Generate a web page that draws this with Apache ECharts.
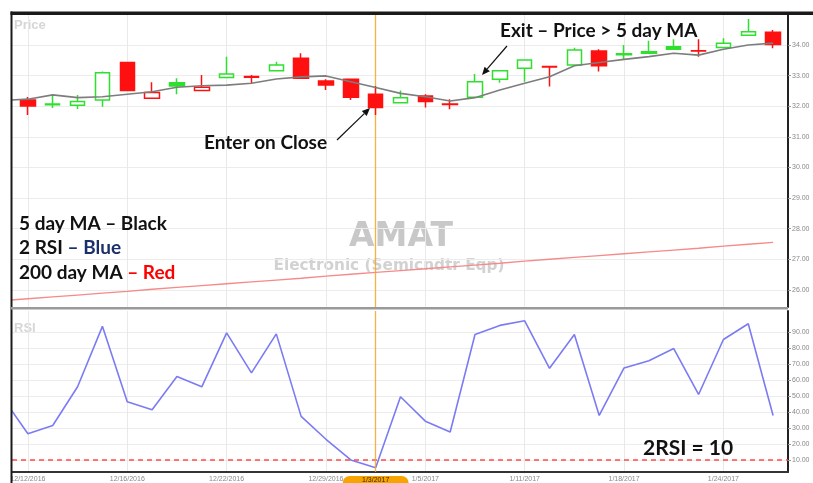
<!DOCTYPE html>
<html>
<head>
<meta charset="utf-8">
<script src="https://cdn.jsdelivr.net/npm/echarts@6/dist/echarts.min.js"></script>
<style>
  html, body { margin: 0; padding: 0; background: #fff; }
  #chart { width: 813px; height: 483px; }
</style>
</head>
<body>
<div id="chart"></div>
<script>
// AMAT daily bars, 12/12/2016 - 1/26/2017
const dates = [
  '12/12/2016', '12/13/2016', '12/14/2016', '12/15/2016', '12/16/2016', '12/19/2016', '12/20/2016', '12/21/2016',
  '12/22/2016', '12/23/2016', '12/27/2016', '12/28/2016', '12/29/2016', '12/30/2016', '1/3/2017', '1/4/2017',
  '1/5/2017', '1/6/2017', '1/9/2017', '1/10/2017', '1/11/2017', '1/12/2017', '1/13/2017', '1/17/2017',
  '1/18/2017', '1/19/2017', '1/20/2017', '1/23/2017', '1/24/2017', '1/25/2017', '1/26/2017',
];
const openPrices = [
  32.20, 32.05, 32.03, 32.20, 33.43, 32.26, 32.77, 32.51, 32.94, 32.95, 33.16, 33.57, 32.82, 32.88, 32.39, 32.11,
  32.33, 32.07, 32.29, 32.88, 33.24, 33.28, 33.35, 33.80, 33.68, 33.73, 33.94, 33.81, 33.92, 34.32, 34.42,
];
const closePrices = [
  32.01, 32.07, 32.15, 33.09, 32.51, 32.45, 32.66, 32.62, 33.05, 32.97, 33.35, 32.91, 32.69, 32.29, 31.96, 32.28,
  32.15, 32.06, 32.80, 33.16, 33.51, 33.30, 33.84, 33.32, 33.71, 33.78, 33.86, 33.80, 34.06, 34.43, 34.02,
];
const lowPrices = [
  31.71, 31.94, 31.91, 31.98, 32.50, 32.26, 32.39, 32.51, 32.91, 32.75, 33.16, 32.91, 32.53, 32.20, 31.71, 32.11,
  31.96, 31.90, 32.29, 32.77, 32.80, 32.64, 33.35, 33.13, 33.54, 33.73, 33.84, 33.62, 33.89, 34.32, 33.89,
];
const highPrices = [
  32.30, 32.37, 32.37, 33.13, 33.45, 32.78, 32.91, 33.02, 33.62, 33.02, 33.45, 33.73, 32.88, 32.90, 32.66, 32.51,
  32.39, 32.23, 33.05, 33.16, 33.51, 33.32, 33.91, 33.86, 34.00, 34.14, 34.19, 34.19, 34.22, 34.85, 34.49,
];
const ma5 = [
  32.23, 32.37, 32.28, 32.31, 32.39, 32.47, 32.62, 32.67, 32.69, 32.75, 32.89, 32.96, 32.99, 32.80, 32.61, 32.42,
  32.31, 32.17, 32.28, 32.53, 32.75, 32.96, 33.32, 33.43, 33.53, 33.62, 33.73, 33.67, 33.86, 34.00, 34.06,
];
const ma200 = [
  25.71, 25.77, 25.83, 25.89, 25.95, 26.02, 26.08, 26.14, 26.20, 26.26, 26.32, 26.38, 26.45, 26.51, 26.57, 26.63,
  26.69, 26.75, 26.81, 26.87, 26.94, 27.00, 27.06, 27.12, 27.18, 27.24, 27.30, 27.36, 27.43, 27.49, 27.55,
];
const rsi2 = [
  26.6, 31.7, 55.9, 93.7, 46.6, 41.5, 62.4, 55.9, 89.6, 64.6, 89.0, 37.4, 23.1, 10.2, 5.3, 49.7,
  34.4, 27.6, 88.6, 94.3, 97.2, 67.5, 88.6, 38.0, 67.7, 72.2, 79.8, 51.1, 85.5, 95.3, 38.0,
];
// 12/9/2016, the bar just left of the window
const prevClose = 32.30;
const ma5Lead = 32.19;
const ma200Lead = 25.65;
const rsi2Lead = 48.7;

const priceTicks = [26, 27, 28, 29, 30, 31, 32, 33, 34];
const rsiTicks = [10, 20, 30, 40, 50, 60, 70, 80, 90];
const dateTicks = [0, 4, 8, 12, 16, 20, 24, 28];
const rsiLevel = 10;
const entryIndex = 14;

const GREEN = '#2fe02f';
const RED = '#ff1010';
const ORANGE_LINE = '#f5a623';
const FONT = 'Lato';

const candleData = dates.map((d, i) => {
  const o = openPrices[i];
  const c = closePrices[i];
  const ref = i === 0 ? prevClose : closePrices[i - 1];
  const col = c >= ref ? GREEN : RED;
  const fill = c > o ? '#ffffff' : col;
  return {
    value: [i, o, c, lowPrices[i], highPrices[i]],
    itemStyle: { color: fill, color0: fill, borderColor: col, borderColor0: col },
  };
});
const withLead = (lead, arr) => [[-1, lead]].concat(arr.map((v, i) => [i, v]));

const xRange = { min: -0.64, max: 30.6 };

function arrow(x1, y1, x2, y2) {
  const a = Math.atan2(y2 - y1, x2 - x1);
  const len = 8, w = 3.5;
  const bx = x2 - len * Math.cos(a), by = y2 - len * Math.sin(a);
  return [
    { type: 'line', shape: { x1, y1, x2: bx, y2: by }, style: { stroke: '#111', lineWidth: 1.2 }, z: 100 },
    {
      type: 'polygon',
      shape: { points: [[x2, y2], [bx + w * Math.sin(a), by - w * Math.cos(a)], [bx - w * Math.sin(a), by + w * Math.cos(a)]] },
      style: { fill: '#111' },
      z: 100,
    },
  ];
}

function label(x, y, text, size, rich) {
  return {
    type: 'text', x, y, z: 100,
    style: {
      text, fill: '#111', font: `bold ${size}px ${FONT}`, verticalAlign: 'middle',
      rich: rich || {},
    },
  };
}
const part = (size, fill) => ({ font: `bold ${size}px ${FONT}`, fill });

const chart = echarts.init(document.getElementById('chart'));

const option = {
  animation: false,
  backgroundColor: '#ffffff',
  textStyle: { fontFamily: 'Liberation Sans' },
  grid: [
    { left: 12, right: 25, top: 15, height: 292 },
    { left: 12, right: 25, top: 311, height: 164 },
  ],
  xAxis: [
    {
      type: 'value', gridIndex: 0, ...xRange,
      axisLine: { show: false }, axisTick: { show: false, customValues: dateTicks },
      axisLabel: { show: false, customValues: dateTicks },
      splitLine: { show: true, lineStyle: { color: '#e9e9e9', width: 1 } },
    },
    {
      type: 'value', gridIndex: 1, ...xRange,
      axisLine: { show: true, onZero: false, lineStyle: { color: '#333', width: 2 } },
      axisTick: { show: false, customValues: dateTicks },
      axisLabel: {
        customValues: dateTicks, formatter: v => dates[v], fontSize: 7, color: '#888', margin: 4,
      },
      splitLine: { show: true, lineStyle: { color: '#e9e9e9', width: 1 } },
    },
  ],
  yAxis: [
    {
      type: 'value', gridIndex: 0, position: 'right', min: 25.44, max: 34.98,
      axisLine: { show: true, onZero: false, lineStyle: { color: '#222', width: 2 } },
      axisTick: { show: true, length: 3, lineStyle: { color: '#999' }, customValues: priceTicks },
      axisLabel: { customValues: priceTicks, formatter: v => v.toFixed(2), fontSize: 7, color: '#888', margin: 4 },
      splitLine: { show: true, lineStyle: { color: '#ececec', width: 1 } },
    },
    {
      type: 'value', gridIndex: 1, position: 'right', min: 2.63, max: 103.3,
      axisLine: { show: true, onZero: false, lineStyle: { color: '#222', width: 2 } },
      axisTick: { show: true, length: 3, lineStyle: { color: '#999' }, customValues: rsiTicks },
      axisLabel: { customValues: rsiTicks, formatter: v => v.toFixed(2), fontSize: 7, color: '#888', margin: 4 },
      splitLine: { show: true, lineStyle: { color: '#ececec', width: 1 } },
    },
  ],
  series: [
    {
      name: '200 day MA', type: 'line', xAxisIndex: 0, yAxisIndex: 0,
      data: withLead(ma200Lead, ma200), symbol: 'none',
      lineStyle: { color: '#f58a8a', width: 1.3 }, z: 2,
    },
    {
      name: 'AMAT', type: 'candlestick', xAxisIndex: 0, yAxisIndex: 0,
      data: candleData, barWidth: 15, itemStyle: { borderWidth: 1.5 }, z: 3,
      markLine: {
        silent: true, symbol: 'none', label: { show: false }, z: 1,
        lineStyle: { color: ORANGE_LINE, type: 'solid', width: 1.3, opacity: 0.85 },
        data: [{ xAxis: entryIndex }],
      },
    },
    {
      name: '5 day MA', type: 'line', xAxisIndex: 0, yAxisIndex: 0,
      data: withLead(ma5Lead, ma5), symbol: 'none',
      lineStyle: { color: '#7d7d7d', width: 1.6 }, z: 4,
    },
    {
      name: 'RSI', type: 'line', xAxisIndex: 1, yAxisIndex: 1,
      data: withLead(rsi2Lead, rsi2), symbol: 'none',
      lineStyle: { color: '#7b7bf4', width: 1.6 }, z: 4,
      markLine: {
        silent: true, symbol: 'none', label: { show: false },
        lineStyle: { color: ORANGE_LINE, type: 'solid', width: 1.3, opacity: 0.85 },
        data: [
          { yAxis: rsiLevel, lineStyle: { color: '#ff4a4a', type: [5, 4], width: 1.5, opacity: 1 } },
          { xAxis: entryIndex },
        ],
      },
    },
  ],
  graphic: [
    // frame
    { type: 'rect', shape: { x: 10.5, y: 11.5, width: 803, height: 3.5 }, style: { fill: '#1a1a1a' }, z: 90 },
    { type: 'rect', shape: { x: 10.5, y: 11.5, width: 2, height: 472 }, style: { fill: '#1a1a1a' }, z: 90 },
    { type: 'rect', shape: { x: 11, y: 307, width: 777, height: 2.5 }, style: { fill: '#9a9a9a' }, z: 90 },
    // panel titles and watermark
    { type: 'text', x: 14, y: 25, style: { text: 'Price', font: 'bold 13px Liberation Sans', fill: '#d6d6d6', verticalAlign: 'middle' } },
    { type: 'text', x: 14, y: 328, style: { text: 'RSI', font: 'bold 13px Liberation Sans', fill: '#d6d6d6', verticalAlign: 'middle' } },
    { type: 'text', x: 401, y: 237, style: { text: 'AMAT', font: 'bold 33px DejaVu Sans', fill: '#c8c8c8', align: 'center', verticalAlign: 'middle' } },
    { type: 'text', x: 389, y: 266, style: { text: 'Electronic (Semicndtr Eqp)', font: 'bold 15.3px DejaVu Sans', fill: '#d2d2d2', align: 'center', verticalAlign: 'middle' } },
    // annotations
    label(500, 31, 'Exit – Price > 5 day MA', 19),
    label(204, 143, 'Enter on Close', 19),
    label(19, 224, '5 day MA – Black', 19),
    label(19, 248, '{a|2 RSI }{b|– Blue}', 19, { a: part(19, '#111'), b: part(19, '#1b2f6a') }),
    label(19, 273, '{a|200 day MA }{b|– Red}', 19, { a: part(19, '#111'), b: part(19, '#ff0000') }),
    label(643, 448, '2RSI = 10', 21),
    ...arrow(507, 46, 482, 75),
    ...arrow(337, 140, 370, 108),
  ],
};

chart.setOption(option);

// date tag under the entry bar, placed through the axis scale
const tagX = chart.convertToPixel({ xAxisIndex: 1 }, entryIndex);
chart.setOption({
  graphic: option.graphic.concat([
    { type: 'rect', shape: { x: tagX - 33, y: 476, width: 66, height: 16, r: 7 }, style: { fill: '#f7a400' }, z: 95 },
    {
      type: 'text', x: tagX, y: 480, z: 96,
      style: { text: dates[entryIndex], font: '7px Liberation Sans', fill: '#3a2600', align: 'center', verticalAlign: 'middle' },
    },
  ]),
});
</script>
</body>
</html>
